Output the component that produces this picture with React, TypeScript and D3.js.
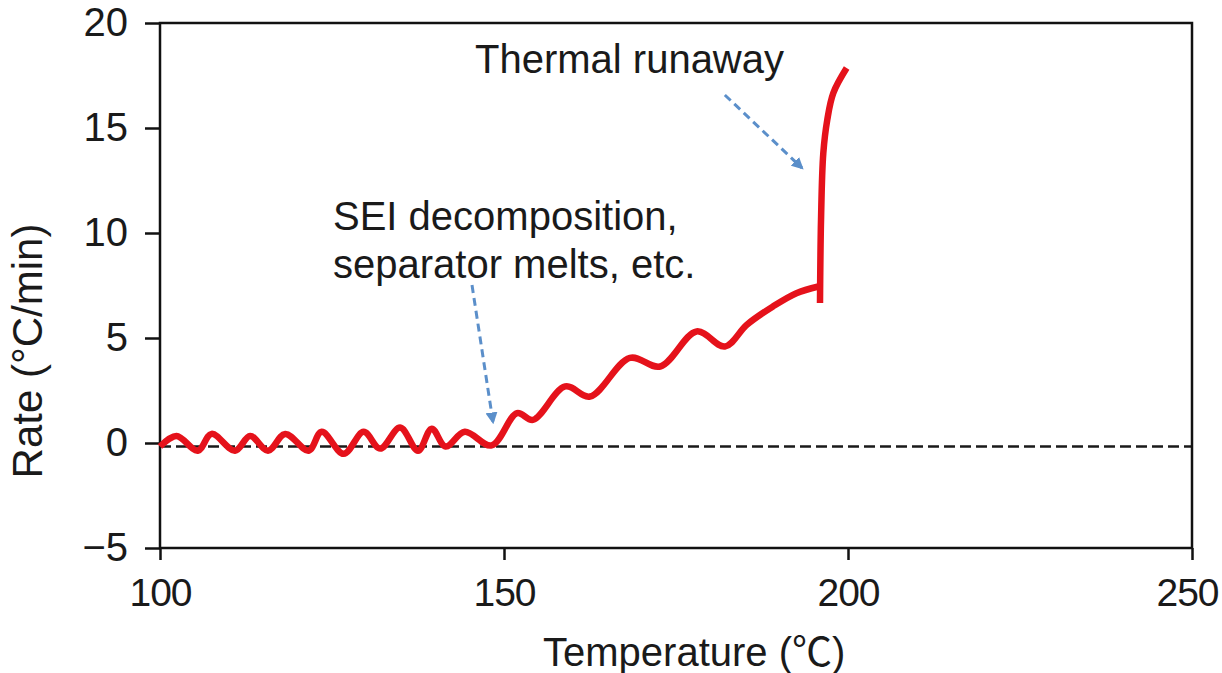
import React, { useEffect, useRef } from "react";
import * as d3 from "d3";

// rate curve (temperature in °C, rate in °C/min)
const temps = [
  100, 102.4, 105.5, 107.5, 110.9, 113.1, 115.7, 118.2, 121.6, 123.5, 126.7,
  129.6, 132, 134.9, 137.5, 139.5, 141.5, 144.3, 148.2, 151.9, 154.2, 158.9,
  162.5, 168.3, 172.7, 178, 182.1, 185.3, 189.1, 192.5, 195.7,
];
const rates = [
  0, 0.5, -0.2, 0.6, -0.2, 0.5, -0.2, 0.6, -0.2, 0.7, -0.35, 0.7, -0.1, 0.9,
  -0.2, 0.85, 0, 0.7, 0.05, 1.59, 1.27, 2.86, 2.38, 4.22, 3.81, 5.48, 4.76,
  5.8, 6.67, 7.3, 7.62,
];

// the runaway branch
const runawayTemps = [195.93, 196.08, 196.41, 196.99, 197.86, 199.8];
const runawayRates = [6.83, 10.8, 13.97, 15.56, 16.83, 18.02];

const xTicks = [100, 150, 200, 250];
const yTicks = [-5, 0, 5, 10, 15, 20];

// annotation arrows: [fromT, fromR, toT, toR]
const arrows = [
  [182.1, 16.57, 193.3, 13.1],
  [145.35, 7.52, 148.4, 1.0],
];

const FONT = "'Liberation Sans', Arial, 'Noto Sans CJK JP', sans-serif";

const App = () => {
  const ref = useRef<SVGSVGElement | null>(null);

  useEffect(() => {
    if (!ref.current) return;
    const svg = d3.select(ref.current);
    svg.selectAll("*").remove();

    const left = 160,
      right = 1192,
      top = 23,
      bottom = 548;

    const x = d3.scaleLinear().domain([100, 250]).range([left, right]);
    const y = d3.scaleLinear().domain([-5, 20]).range([bottom, top]);

    const defs = svg.append("defs");
    defs
      .append("marker")
      .attr("id", "arrowhead")
      .attr("viewBox", "0 0 10 10")
      .attr("refX", 8)
      .attr("refY", 5)
      .attr("markerWidth", 4)
      .attr("markerHeight", 4)
      .attr("orient", "auto")
      .append("path")
      .attr("d", "M0,0 L10,5 L0,10 z")
      .attr("fill", "#5b8fca");

    // zero line
    svg
      .append("line")
      .attr("x1", x(100))
      .attr("x2", x(250))
      .attr("y1", y(0) + 3.5)
      .attr("y2", y(0) + 3.5)
      .attr("stroke", "#1a1a1a")
      .attr("stroke-width", 2.5)
      .attr("stroke-dasharray", "11,5");

    // axes
    const ya = svg
      .append("g")
      .attr("transform", `translate(${left},0)`)
      .call(d3.axisLeft(y).tickValues(yTicks).tickSize(15).tickPadding(17));
    const xa = svg
      .append("g")
      .attr("transform", `translate(0,${bottom})`)
      .call(d3.axisBottom(x).tickValues(xTicks).tickSize(12).tickPadding(18));
    [ya, xa].forEach((a) => {
      a.select(".domain").remove();
      a.selectAll(".tick line").attr("stroke", "#111").attr("stroke-width", 2.5);
      a.selectAll(".tick text")
        .attr("font-family", FONT)
        .attr("font-size", 40)
        .attr("fill", "#1a1a1a");
    });
    ya.selectAll(".tick text").text((d: any) => (d < 0 ? `\u2212${-d}` : `${d}`));
    xa.selectAll(".tick text")
      .attr("font-size", 39)
      .attr("letter-spacing", -1)
      .attr("dx", (d: any) => (d === 250 ? -5 : 0));

    svg
      .append("rect")
      .attr("x", left)
      .attr("y", top)
      .attr("width", right - left)
      .attr("height", bottom - top)
      .attr("fill", "none")
      .attr("stroke", "#111")
      .attr("stroke-width", 2.5);

    // curves (nudged onto the zero line as drawn)
    const line = d3
      .line<number>()
      .x((d, i) => x(temps[i]))
      .y((d) => y(d) + 3.5)
      .curve(d3.curveCatmullRom.alpha(0.5));
    svg
      .append("path")
      .attr("d", line(rates))
      .attr("fill", "none")
      .attr("stroke", "#e5121b")
      .attr("stroke-width", 6.5);

    const line2 = d3
      .line<number>()
      .x((d, i) => x(runawayTemps[i]))
      .y((d) => y(d) + 3.5)
      .curve(d3.curveCatmullRom.alpha(0.5));
    svg
      .append("path")
      .attr("d", line2(runawayRates))
      .attr("fill", "none")
      .attr("stroke", "#e5121b")
      .attr("stroke-width", 6.5);

    // annotation arrows
    svg
      .selectAll(".arrow")
      .data(arrows)
      .enter()
      .append("line")
      .attr("class", "arrow")
      .attr("x1", (d) => x(d[0]))
      .attr("y1", (d) => y(d[1]))
      .attr("x2", (d) => x(d[2]))
      .attr("y2", (d) => y(d[3]))
      .attr("stroke", "#5b8fca")
      .attr("stroke-width", 3)
      .attr("stroke-dasharray", "8,5")
      .attr("marker-end", "url(#arrowhead)");

    const txt = (s: string, tx: number, ty: number, anchor = "start") =>
      svg
        .append("text")
        .attr("x", tx)
        .attr("y", ty)
        .attr("text-anchor", anchor)
        .attr("font-family", FONT)
        .attr("font-size", 40)
        .attr("fill", "#1a1a1a")
        .text(s);

    txt("Thermal runaway", 475, 73);
    txt("SEI decomposition,", 333, 230);
    txt("separator melts, etc.", 333, 278);
    txt("Temperature (\u2103)", 543, 666);

    svg
      .append("text")
      .attr("transform", "translate(42,351) rotate(-90)")
      .attr("text-anchor", "middle")
      .attr("font-family", FONT)
      .attr("font-size", 42)
      .attr("fill", "#1a1a1a")
      .text("Rate (\u00b0C/min)");
  }, []);

  return (
    <svg
      ref={ref}
      width={1222}
      height={673}
      style={{ position: "absolute", left: 0, top: 0, background: "#fff" }}
    />
  );
};

export default App;
